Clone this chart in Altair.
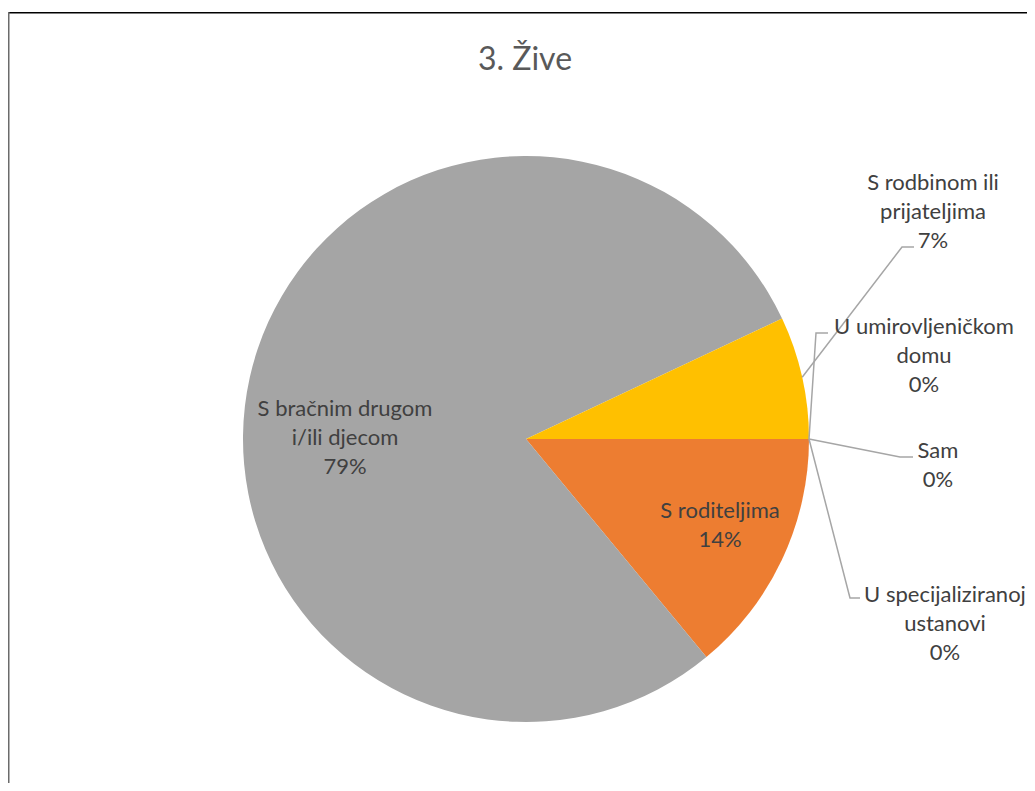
import math
import pandas as pd
import altair as alt

# ---- data ----
categories = [
    "S roditeljima",
    "S bračnim drugom i/ili djecom",
    "S rodbinom ili prijateljima",
    "U umirovljeničkom domu",
    "Sam",
    "U specijaliziranoj ustanovi",
]
values = [14, 79, 7, 0, 0, 0]
label_lines = [
    ["S roditeljima"],
    ["S bračnim drugom", "i/ili djecom"],
    ["S rodbinom ili", "prijateljima"],
    ["U umirovljeničkom", "domu"],
    ["Sam"],
    ["U specijaliziranoj", "ustanovi"],
]
colors = ["#ED7D31", "#A5A5A5", "#FFC000", "#5B9BD5", "#70AD47", "#4472C4"]
title_text = "3. Žive"

# ---- layout (pixels, relative to pie centre, y downwards) ----
W, H = 1019, 771
CX, CY = 518, 427
R = 283
START_DEG = 90
LINE_H = 29
label_pos = {
    "S roditeljima": (194, 86),
    "S bračnim drugom i/ili djecom": (-181, -1),
    "S rodbinom ili prijateljima": (407, -227),
    "U umirovljeničkom domu": (398, -83),
    "Sam": (412, 26),
    "U specijaliziranoj ustanovi": (419, 185),
}
leader_pts = {
    "S rodbinom ili prijateljima": [(376, -192), (388, -192)],
    "U umirovljeničkom domu": [(290, -106), (302, -106)],
    "Sam": [(374, 18), (387, 18)],
    "U specijaliziranoj ustanovi": [(324, 159), (334, 159)],
}

total = sum(values)
pie_df = pd.DataFrame({"cat": categories, "value": values, "idx": range(len(categories))})

label_rows = []
leader_rows = []
acc = START_DEG
for i, (c, v, lines) in enumerate(zip(categories, values, label_lines)):
    span = v / total * 360
    mid = math.radians(acc + span / 2)
    acc += span
    pct = f"{round(v / total * 100)}%"
    all_lines = lines + [pct]
    lx, ly = label_pos[c]
    ly_first = ly - (len(all_lines) - 1) / 2 * LINE_H
    label_rows.append({"cat": c, "label": "\n".join(all_lines), "lx": lx, "ly": ly_first})
    if c in leader_pts:
        pts = [(R * math.sin(mid), -R * math.cos(mid))] + leader_pts[c]
        for k, (px, py) in enumerate(pts):
            leader_rows.append({"cat": c, "k": k, "px": px, "py": py})

label_df = pd.DataFrame(label_rows)
leader_df = pd.DataFrame(leader_rows)

xs = alt.Scale(domain=[-CX, W - CX], nice=False, zero=False)
ys = alt.Scale(domain=[-CY, H - CY], nice=False, zero=False, reverse=True)

arcs = alt.Chart(pie_df).mark_arc(radius=R).encode(
    theta=alt.Theta("value:Q", stack=True,
                    scale=alt.Scale(range=[math.pi / 2, math.pi / 2 + 2 * math.pi])),
    color=alt.Color("cat:N", scale=alt.Scale(domain=categories, range=colors), legend=None),
    order=alt.Order("idx:Q"),
    x=alt.value(CX),
    y=alt.value(CY),
)

leaders = alt.Chart(leader_df).mark_line(color="#A6A6A6", strokeWidth=1.5).encode(
    x=alt.X("px:Q", scale=xs, axis=None),
    y=alt.Y("py:Q", scale=ys, axis=None),
    detail="cat:N",
    order="k:Q",
)

labels = alt.Chart(label_df).mark_text(
    lineBreak="\n", font="Lato", fontSize=22, color="#404040",
    lineHeight=LINE_H, align="center", baseline="middle",
).encode(
    x=alt.X("lx:Q", scale=xs, axis=None),
    y=alt.Y("ly:Q", scale=ys, axis=None),
    text="label:N",
)

title = alt.Chart(pd.DataFrame({"t": [title_text]})).mark_text(
    font="Lato", fontSize=32, color="#595959", align="center", baseline="middle"
).encode(text="t:N", x=alt.value(517), y=alt.value(48))

top_border = alt.Chart(pd.DataFrame({"a": [0]})).mark_rule(color="#000000", strokeWidth=1.5).encode(
    x=alt.value(0), x2=alt.value(W), y=alt.value(0.75)
)
left_border = alt.Chart(pd.DataFrame({"a": [0]})).mark_rule(color="#6B6B6B", strokeWidth=1.5).encode(
    x=alt.value(0.75), y=alt.value(0), y2=alt.value(H)
)

chart = alt.layer(arcs, leaders, labels, title, top_border, left_border).properties(
    width=W, height=H,
    autosize=alt.AutoSizeParams(type="none"),
    padding={"left": 0, "top": 4, "right": 0, "bottom": 0},
    background="white",
).configure_view(stroke=None)

chart.save("out.html", embed_options={"renderer": "svg", "actions": False})
